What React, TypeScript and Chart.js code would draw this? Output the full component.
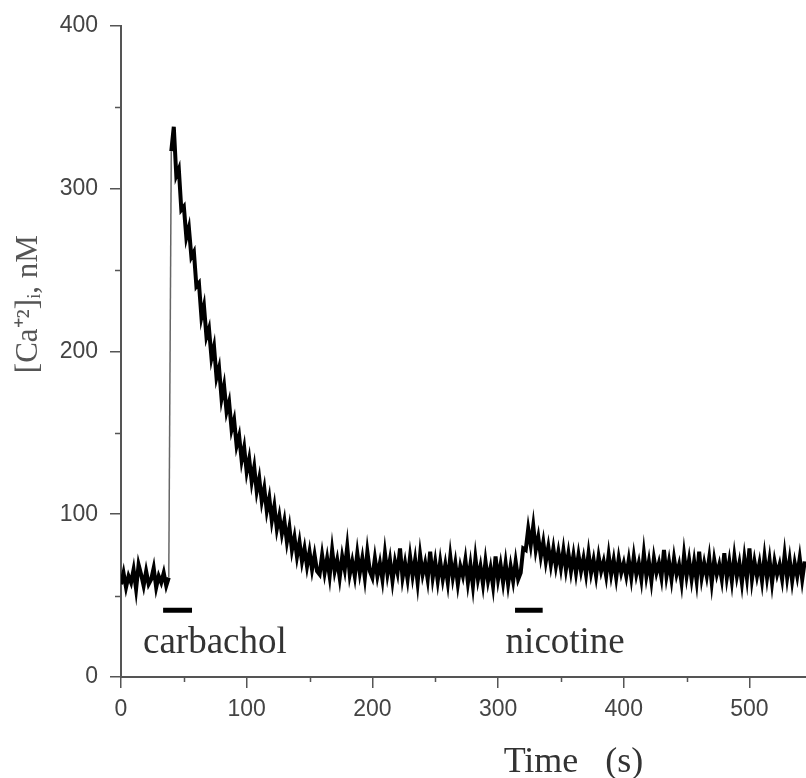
import React, { useEffect, useRef } from 'react';
import { Chart, registerables } from 'chart.js';

Chart.register(...registerables);

// ---- data ----
const SAMPLE_INTERVAL_S = 2;

// 0..36 s resting level
const restingBefore = [57, 64, 55, 62, 58, 66, 54, 69, 63, 56, 65, 57, 60, 67, 55, 62, 58, 64, 56];
// 38 s, last point before the jump
const preStimulus = [61];
// 40..156 s carbachol transient
const carbacholResponse = [
  323, 338, 308, 312, 287, 289, 270, 276, 258, 261, 240, 242, 221, 228, 209, 214, 196, 203, 184, 190,
  171, 179, 163, 169, 152, 158, 142, 148, 133, 141, 126, 134, 120, 129, 114, 122, 108, 116, 102, 110,
  96, 105, 91, 99, 88, 96, 83, 92, 78, 86, 74, 83, 71, 79, 68, 77, 66, 75, 65,
];
// 158..316 s plateau
const plateau = [
  63, 75, 64, 73, 62, 78, 65, 72, 61, 74, 66, 80, 63, 71, 62, 76, 64, 73, 61, 77, 65,
  61, 73, 62, 70, 60, 76, 63, 72, 59, 71, 64, 79, 61, 70, 60, 74, 62, 72, 58, 75, 63, 70, 60, 77, 61, 71,
  59, 71, 60, 69, 58, 74, 61, 70, 57, 68, 62, 72, 58, 69, 56, 73, 60, 68, 57, 71, 59, 67, 56, 74, 60, 69, 58, 70, 57, 68, 59, 71, 60,
];
// 318..340 s nicotine transient
const nicotineResponse = [64, 79, 78, 91, 81, 93, 78, 86, 74, 83, 71, 80];
// 342..400 s recovery
const recovery = [
  69, 79, 68, 77, 67, 78, 66, 76, 65, 75,
  64, 75, 65, 73, 63, 76, 64, 72, 62, 74, 65, 71, 62, 75, 63, 72, 61, 73, 64, 70,
];
// 402..544 s resting level
const restingAfter = [
  62, 72, 61, 74, 63, 70, 60, 76, 62, 71, 59, 73, 64, 70, 61, 78, 62, 71, 60, 73,
  63, 69, 58, 75, 62, 72, 60, 71, 59, 77, 61, 70, 62, 73, 58, 72, 63, 69, 60, 76,
  61, 71, 59, 74, 62, 70, 58, 73, 61, 79, 60, 71, 62, 70, 59, 74, 61, 72, 58, 71,
  63, 69, 60, 75, 61, 72, 59, 70, 62, 73, 60, 71,
];

const calciumNM = [
  ...restingBefore, ...preStimulus, ...carbacholResponse, ...plateau,
  ...nicotineResponse, ...recovery, ...restingAfter,
];
const timeS = calciumNM.map((_, i) => i * SAMPLE_INTERVAL_S);

// drug application periods (s) and the level at which the bar is drawn (nM)
const drugNames = ['carbachol', 'nicotine'];
const drugStart = [33.5, 313.5];
const drugEnd = [56.5, 335.5];
const drugBarLevel = [41, 41];

const X_MIN = 0;
const X_MAX = 545;
const Y_MIN = 0;
const Y_MAX = 400;
const MAJOR_STEP = 100;

const AXIS_COLOR = '#555';
const TICK_FONT = '"Liberation Sans", Arial, sans-serif';
const SERIF = '"Liberation Serif", "Times New Roman", serif';

const minorTicksPlugin = {
  id: 'minorTicks',
  afterDraw(chart: any) {
    const { ctx, chartArea } = chart;
    const xs = chart.scales.x;
    const ys = chart.scales.y;
    ctx.save();
    ctx.strokeStyle = AXIS_COLOR;
    ctx.lineWidth = 1.5;
    ctx.beginPath();
    for (let v = 50; v < Y_MAX; v += MAJOR_STEP) {
      const py = Math.round(ys.getPixelForValue(v)) + 0.5;
      ctx.moveTo(chartArea.left - 6, py);
      ctx.lineTo(chartArea.left, py);
    }
    for (let v = 50; v < X_MAX; v += MAJOR_STEP) {
      const px = Math.round(xs.getPixelForValue(v)) + 0.5;
      ctx.moveTo(px, chartArea.bottom);
      ctx.lineTo(px, chartArea.bottom + 5);
    }
    ctx.stroke();
    ctx.restore();
  },
};

const textPlugin = {
  id: 'figureText',
  afterDraw(chart: any) {
    const { ctx } = chart;
    const xs = chart.scales.x;
    const ys = chart.scales.y;
    ctx.save();
    // drug labels
    ctx.fillStyle = '#333';
    ctx.font = `37px ${SERIF}`;
    ctx.textAlign = 'left';
    ctx.textBaseline = 'alphabetic';
    const labelStartX = [17.5, 306];
    drugNames.forEach((name, i) => {
      ctx.fillText(name, xs.getPixelForValue(labelStartX[i]), ys.getPixelForValue(14.7));
    });
    // x title
    ctx.font = `36px ${SERIF}`;
    ctx.textAlign = 'center';
    ctx.fillText('Time   (s)', xs.getPixelForValue(360), 772);
    // y title
    ctx.fillStyle = '#555';
    ctx.font = `31px ${SERIF}`;
    ctx.translate(29, ys.getPixelForValue(229));
    ctx.rotate(-Math.PI / 2);
    ctx.textBaseline = 'middle';
    ctx.fillText('[Ca\u207A\u00B2]\u1D62, nM', 0, 0);
    ctx.restore();
  },
};

export default function App() {
  const canvasRef = useRef<HTMLCanvasElement | null>(null);

  useEffect(() => {
    document.body.style.margin = '0';
    const canvas = canvasRef.current;
    if (!canvas) return;

    const traceData = timeS.map((t, i) => ({ x: t, y: calciumNM[i] }));
    const jumpIndex = restingBefore.length; // segment from the last resting point to the first response point
    const barSets = drugNames.map((name, i) => ({
      label: name,
      data: [
        { x: drugStart[i], y: drugBarLevel[i] },
        { x: drugEnd[i], y: drugBarLevel[i] },
      ],
      borderColor: '#000',
      borderWidth: 5,
      pointRadius: 0,
      borderCapStyle: 'butt' as const,
    }));

    const chart = new Chart(canvas, {
      type: 'line',
      data: {
        datasets: [
          {
            label: '[Ca2+]i',
            data: traceData,
            borderColor: '#000',
            borderWidth: 4,
            borderJoinStyle: 'miter',
            pointRadius: 0,
            tension: 0,
            segment: {
              borderWidth: (c: any) => (c.p0DataIndex === jumpIndex ? 1.5 : undefined),
              borderColor: (c: any) => (c.p0DataIndex === jumpIndex ? '#666' : undefined),
            },
          } as any,
          ...barSets,
        ],
      },
      options: {
        animation: false,
        responsive: false,
        events: [],
        layout: { padding: { top: 23, left: 0, right: 0, bottom: 0 } },
        plugins: { legend: { display: false }, tooltip: { enabled: false } },
        scales: {
          x: {
            type: 'linear',
            min: X_MIN,
            max: X_MAX,
            afterFit: (s: any) => { s.height = 101; },
            border: { display: true, color: AXIS_COLOR, width: 2 },
            grid: { drawOnChartArea: false, drawTicks: true, tickLength: 11, color: AXIS_COLOR, lineWidth: 1.5 },
            ticks: {
              stepSize: MAJOR_STEP,
              includeBounds: false,
              autoSkip: false,
              maxRotation: 0,
              padding: 8,
              color: '#444',
              font: { family: TICK_FONT, size: 23 },
            },
          },
          y: {
            type: 'linear',
            min: Y_MIN,
            max: Y_MAX,
            afterFit: (s: any) => { s.width = 121; },
            border: { display: true, color: AXIS_COLOR, width: 2 },
            grid: { drawOnChartArea: false, drawTicks: true, tickLength: 11, color: AXIS_COLOR, lineWidth: 1.5 },
            ticks: {
              stepSize: MAJOR_STEP,
              padding: 12,
              color: '#444',
              font: { family: TICK_FONT, size: 23 },
            },
          },
        },
      },
      plugins: [minorTicksPlugin, textPlugin],
    });
    return () => chart.destroy();
  }, []);

  return (
    <div style={{ position: 'absolute', left: 0, top: 0, width: 806, height: 778, background: '#fff' }}>
      <canvas ref={canvasRef} width={806} height={778} style={{ display: 'block' }} />
    </div>
  );
}
